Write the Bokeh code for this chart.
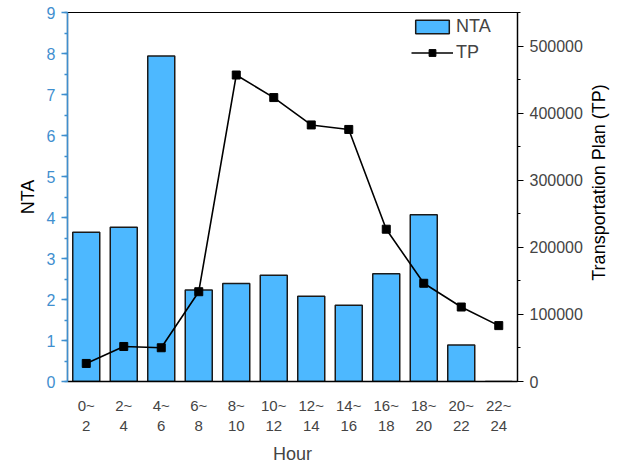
import math
from bokeh.plotting import figure
from bokeh.layouts import row
from bokeh.models import (Range1d, LinearAxis, SingleIntervalTicker, ColumnDataSource,
                          FactorRange, Legend, LegendItem, BasicTickFormatter, Label)
from bokeh.embed import file_html
from bokeh.resources import INLINE

hours = ["0~\n2", "2~\n4", "4~\n6", "6~\n8", "8~\n10", "10~\n12", "12~\n14",
         "14~\n16", "16~\n18", "18~\n20", "20~\n22", "22~\n24"]
nta = [3.64, 3.76, 7.94, 2.23, 2.39, 2.59, 2.08, 1.86, 2.63, 4.07, 0.89, 0.0]
tp = [26900, 52200, 50300, 133800, 456800, 423200, 382400, 375700, 227000, 146400, 111000, 83300]

FONT = "Liberation Sans"
BLUE_AX = "#3f8fcf"

src = ColumnDataSource(dict(hour=hours, nta=nta, tp=tp))

p = figure(width=588, height=466, x_range=FactorRange(*hours), y_range=Range1d(0, 9),
           output_backend="svg", toolbar_location=None,
           min_border_left=67, min_border_right=71, min_border_top=12, min_border_bottom=76)
p.extra_y_ranges = {"tp": Range1d(0, 550000)}

p.xgrid.visible = False
p.ygrid.visible = False
p.outline_line_color = "black"
p.outline_line_width = 1.2
p.background_fill_color = "white"
p.border_fill_color = "white"

bars = p.vbar(x="hour", top="nta", width=0.72, source=src, fill_color="#4db8ff",
              line_color="#1a1a1a", line_width=1.5)
ln = p.line(x="hour", y="tp", source=src, y_range_name="tp", line_color="black", line_width=1.6)
mk = p.scatter(x="hour", y="tp", source=src, y_range_name="tp", marker="square", size=8,
               fill_color="black", line_color="black")

# left axis
ya = p.yaxis[0]
ya.ticker = SingleIntervalTicker(interval=1, num_minor_ticks=2)
ya.axis_label = "NTA"
ya.axis_label_text_font = FONT
ya.axis_label_text_font_size = "18px"
ya.axis_label_text_font_style = "normal"
ya.axis_label_text_color = "black"
ya.axis_label_standoff = 6
ya.axis_line_color = BLUE_AX
ya.axis_line_width = 1.5
ya.major_tick_line_color = BLUE_AX
ya.minor_tick_line_color = BLUE_AX
ya.major_tick_line_width = 1.3
ya.minor_tick_line_width = 1.3
ya.major_tick_out = 6
ya.major_tick_in = 0
ya.minor_tick_out = 3
ya.minor_tick_in = 0
ya.major_label_text_color = BLUE_AX
ya.major_label_text_font = FONT
ya.major_label_text_font_size = "16px"
ya.major_label_standoff = 6

# right axis
ra = LinearAxis(y_range_name="tp", ticker=SingleIntervalTicker(interval=100000, num_minor_ticks=2),
                formatter=BasicTickFormatter(use_scientific=False))
ra.axis_line_color = "black"
ra.axis_line_width = 1.3
ra.major_tick_out = 6
ra.major_tick_in = 0
ra.minor_tick_out = 3
ra.minor_tick_in = 0
ra.major_tick_line_width = 1.2
ra.minor_tick_line_width = 1.2
ra.major_label_text_font = FONT
ra.major_label_text_font_size = "16px"
ra.major_label_standoff = 6
p.add_layout(ra, "right")

# bottom axis
xa = p.xaxis[0]
xa.axis_label = "Hour"
xa.axis_label_text_font = FONT
xa.axis_label_text_font_size = "18px"
xa.axis_label_text_font_style = "normal"
xa.axis_label_standoff = 7
xa.axis_line_color = "black"
xa.axis_line_width = 1.3
xa.major_tick_line_color = None
xa.minor_tick_line_color = None
xa.major_label_text_font = FONT
xa.major_label_text_font_size = "15px"
xa.major_label_standoff = 9

legend = Legend(items=[LegendItem(label="NTA", renderers=[bars]),
                       LegendItem(label="TP", renderers=[ln, mk])],
                location=(344, 318))
legend.border_line_color = None
legend.background_fill_alpha = 0
legend.padding = 0
legend.margin = 0
legend.glyph_width = 42
legend.glyph_height = 17
legend.spacing = 5
legend.label_standoff = 3
legend.label_text_font = FONT
legend.label_text_font_size = "18px"
p.add_layout(legend)

# right-hand axis title, reading bottom-to-top, in a narrow companion figure
t = figure(width=30, height=466, output_backend="svg", toolbar_location=None,
           x_range=Range1d(0, 1), y_range=Range1d(0, 1),
           x_axis_type=None, y_axis_type=None,
           min_border_left=0, min_border_right=0, min_border_top=0, min_border_bottom=0)
t.outline_line_color = None
t.xgrid.visible = False
t.ygrid.visible = False
t.background_fill_color = "white"
t.border_fill_color = "white"
t.add_layout(Label(x=10, y=199, x_units="screen", y_units="screen",
                   text="Transportation Plan (TP)", angle=math.pi / 2,
                   text_align="center", text_baseline="middle",
                   text_font=FONT, text_font_size="18px", text_color="black"))

layout = row(p, t, spacing=0)
open("out.html", "w").write(file_html(layout, INLINE))
